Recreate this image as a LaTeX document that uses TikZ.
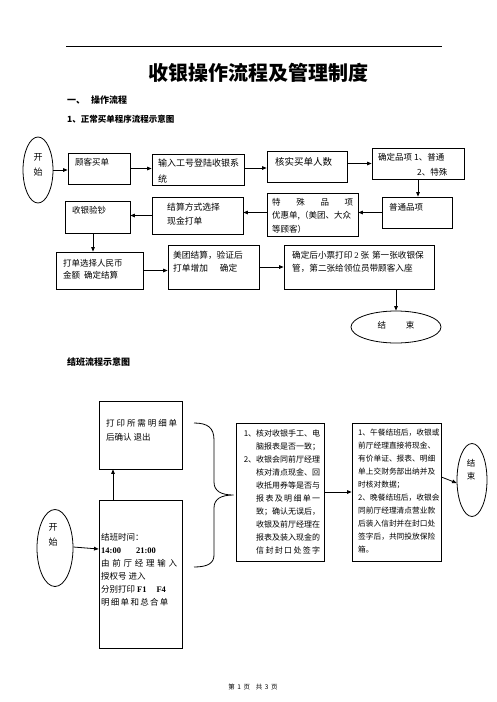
\documentclass[tikz,border=0pt]{standalone}
\usepackage{fontspec}
\setmainfont{Noto Sans CJK SC}
\newfontfamily\lat{Liberation Serif}
\usetikzlibrary{arrows.meta,shapes.geometric}
\newcommand\jl[2]{\makebox[#1][s]{#2}}
\newcommand\fs[2]{\fontsize{#1}{#2}\selectfont}
\begin{document}
\begin{tikzpicture}[x=1pt,y=-1pt,
  box/.style={draw, line width=0.8pt, rectangle, inner sep=0pt},
  oval/.style={draw, line width=0.8pt, ellipse, inner sep=0pt},
  txt/.style={inner sep=0pt, align=left, anchor=north west},
  arr/.style={-{Triangle[length=4.5pt,width=3.6pt]}, line width=0.8pt}]
\fill[white] (0,0) rectangle (496,702);
\useasboundingbox (0,0) rectangle (496,702);
% header
\draw[line width=0.9pt] (66,46) -- (442,46);
\node[inner sep=0pt, font=\fs{20}{24}\bfseries] (title) at (258,73) {收银操作流程及管理制度};
\node[inner sep=0pt, anchor=west, font=\fs{9}{11}\bfseries] (h1) at (67,100) {一、\hspace{6pt}操作流程};
\node[inner sep=0pt, anchor=west, font=\fs{8.5}{11}\bfseries] (h2) at (67,119) {1、正常买单程序流程示意图};
\node[inner sep=0pt, anchor=west, font=\fs{9}{11}\bfseries] (h3) at (67,362) {结班流程示意图};
% chart 1 shapes
\node[oval, minimum width=30, minimum height=66] (e1) at (38,170) {};
\node[box, minimum width=62, minimum height=31] (b1) at (99,168.5) {};
\node[box, minimum width=92, minimum height=31] (b2) at (198,169.5) {};
\node[box, minimum width=80, minimum height=31] (b3) at (307,166.5) {};
\node[box, minimum width=92, minimum height=31] (b4) at (418,163.5) {};
\node[box, minimum width=70, minimum height=31] (b5) at (417,212.5) {};
\node[box, minimum width=91, minimum height=43] (b6) at (312.5,214.5) {};
\node[box, minimum width=91, minimum height=37] (b7) at (197.5,215.5) {};
\node[box, minimum width=65, minimum height=32] (b8) at (97.5,217) {};
\node[box, minimum width=87, minimum height=37] (b9) at (99.5,270.5) {};
\node[box, minimum width=91, minimum height=44] (b10) at (213.5,267) {};
\node[box, minimum width=150, minimum height=44] (b11) at (359,267) {};
\node[oval, minimum width=90, minimum height=32] (e2) at (396,327) {};
% chart 1 texts
\node[inner sep=0pt, align=center, font=\fs{9}{15}] (t0) at (38,164.5) {开\\始};
\node[txt, font=\fs{8.5}{13}] (t1) at (75,157.75) {顾客买单};
\node[txt, font=\fs{9}{16}] (t2) at (158,158.5) {输入工号登陆收银系\\统};
\node[txt, font=\fs{9.5}{13}] (t3) at (275,157.25) {核实买单人数};
\node[txt, font=\fs{8.5}{15}] (t4) at (378,152.75) {确定品项 1、普通\\\hspace*{39pt}2、特殊};
\node[txt, font=\fs{8.5}{13}] (t5) at (389,202.75) {普通品项};
\node[txt, font=\fs{8.5}{13.5}] (t6) at (272,197.75) {\jl{81pt}{特 殊 品 项}\\优惠单,（美团、大众\\等顾客）};
\node[txt, font=\fs{8.8}{14}] (t7) at (167,202.6) {结算方式选择\\现金打单};
\node[txt, font=\fs{8.5}{13}] (t8) at (72,205.75) {收银验钞};
\node[txt, font=\fs{8.5}{12}] (t9) at (63,258.75) {打单选择人民币\\金额\hspace{4pt}确定结算};
\node[txt, font=\fs{8.7}{13}] (t10) at (173,250.65) {美团结算，验证后\\打单增加\hspace{12pt}确定};
\node[txt, font=\fs{8.6}{13}] (t11) at (292,250.7) {确定后小票打印 {\lat 2} 张\hspace{3pt}第一张收银保\\管，第二张给领位员带顾客入座};
\node[inner sep=0pt, font=\fs{8.5}{13}] (t12) at (396,325) {结\hspace{20pt}束};
% chart 1 arrows
\draw[arr] (e1.east) -- (e1.east -| b1.west);
\draw[arr] (b1.east) -- (b1.east -| b2.west);
\draw[arr] (b2.east) ++(0,-1.5) -- ([yshift=1.5pt]b2.east -| b3.west);
\draw[arr] (b3.east |- b4.west) -- (b4.west);
\draw[arr] (b4.south) -- (b4.south |- b5.north);
\draw[arr] (b5.west) -- (b5.west -| b6.east);
\draw[arr] (b6.west |- b5.west) -- (b5.west -| b7.east);
\draw[arr] (b7.west) -- (b7.west -| b8.east);
\draw[arr] ([xshift=-4.5pt]b8.south) -- ([xshift=-4.5pt]b8.south |- b9.north);
\draw[arr] (b9.east) -- (b9.east -| b10.west);
\draw[arr] (b10.east) -- (b10.east -| b11.west);
\draw[arr] (e2.north |- b11.south) -- (e2.north);
% chart 2 shapes
\node[box, minimum width=83, minimum height=68] (c1) at (140.5,435) {};
\node[box, minimum width=83, minimum height=148] (c2) at (140.5,574) {};
\node[box, minimum width=88, minimum height=138] (c3) at (280,492) {};
\node[box, minimum width=89, minimum height=138] (c4) at (396.5,492) {};
\node[oval, minimum width=36, minimum height=77] (e3) at (55,548) {};
\node[oval, minimum width=30, minimum height=73] (e4) at (472,480) {};
\coordinate (tip) at (233.5,495);
\draw[line width=0.8pt] (194,423) .. controls (208,423) and (214,428) .. (214,440) -- (214,482) .. controls (214,491) and (221,495) .. (tip) .. controls (221,495) and (214,499) .. (214,508) -- (214,555) .. controls (214,563) and (208,567) .. (194,567);
% chart 2 texts
\node[txt, font=\fs{8.5}{14}] (s1) at (106,418.75) {\jl{71pt}{打 印 所 需 明 细 单}\\后确认 退出};
\node[txt, font=\fs{8.5}{13}] (s2) at (101,532.75) {结班时间：\\{\lat\bfseries 14:00\hspace{15pt}21:00}\\\jl{76pt}{由 前 厅 经 理 输 入}\\授权号 进入\\分别打印 {\lat\bfseries F1\hspace{10pt}F4}\\\jl{67pt}{明 细 单 和 总 合 单}};
\node[inner sep=0pt, align=center, font=\fs{9}{15}] (s0) at (53,534.5) {开\\始};
\node[txt, font=\fs{8}{12.9}] (s3) at (256,430) {\llap{1、}核对收银手工、电\\脑报表是否一致；\\\llap{2、}收银会同前厅经理\\核对清点现金、回\\收抵用券等是否与\\\jl{64pt}{报 表 及 明 细 单 一}\\致；确认无误后，\\收银及前厅经理在\\报表及装入现金的\\\jl{64pt}{信 封 封 口 处 签 字}};
\node[txt, font=\fs{7.7}{13}] (s4) at (358,429) {1、午餐结班后，收银或\\前厅经理直接将现金、\\有价单证、报表、明细\\单上交财务部出纳并及\\时核对数据；\\2、晚餐结班后，收银会\\同前厅经理清点营业款\\后装入信封并在封口处\\签字后，共同投放保险\\箱。};
\node[inner sep=0pt, align=center, font=\fs{8.5}{12.5}] (s5) at (471,469.75) {结\\束};
% chart 2 arrows
\draw[arr] (e3.east) ++(0,-1) -- ([yshift=-1pt]e3.east -| c2.west);
\draw[arr] ([xshift=-27.5pt]c2.north) -- ([xshift=-27.5pt]c1.south);
\draw[arr] (c3.east) -- (c4.west);
\draw[arr] (c4.east |- e4.west) ++(0,-3) -- ([yshift=-3pt]e4.west);
% footer
\node[inner sep=0pt, font=\fs{6.5}{8}] (foot) at (253,687) {第\hspace{2.5pt}1\hspace{2.5pt}页\hspace{6pt}共\hspace{2.5pt}3\hspace{2.5pt}页};
\end{tikzpicture}
\end{document}
